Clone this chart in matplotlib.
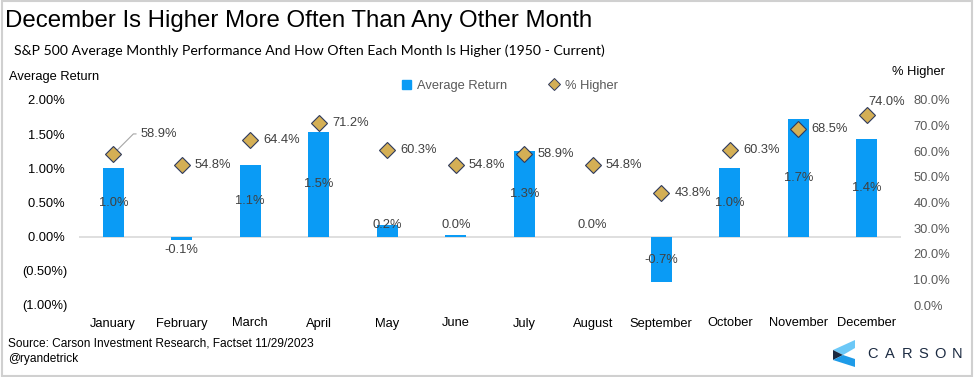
import matplotlib
matplotlib.use("Agg")
import matplotlib.pyplot as plt
from matplotlib.patches import Patch, Polygon, Rectangle
from matplotlib.lines import Line2D
from matplotlib.ticker import FixedLocator

months = ["January", "February", "March", "April", "May", "June", "July",
          "August", "September", "October", "November", "December"]
avg_return = [1.00, -0.05, 1.05, 1.53, 0.17, 0.02, 1.25, 0.00, -0.67, 1.00, 1.72, 1.43]
avg_labels = ["1.0%", "-0.1%", "1.1%", "1.5%", "0.2%", "0.0%", "1.3%", "0.0%",
              "-0.7%", "1.0%", "1.7%", "1.4%"]
pct_higher = [58.9, 54.8, 64.4, 71.2, 60.3, 54.8, 58.9, 54.8, 43.8, 60.3, 68.5, 74.0]
left_ticks = [-1.0, -0.5, 0.0, 0.5, 1.0, 1.5, 2.0]
left_tick_labels = ["(1.00%)", "(0.50%)", "0.00% ", "0.50% ", "1.00% ", "1.50% ", "2.00% "]
right_ticks = [0, 10, 20, 30, 40, 50, 60, 70, 80]

BAR = "#0A9BF5"
DIA = "#D4AF55"
DIA_EDGE = "#2E3A5C"
LBL = "#404040"
FONT = "Liberation Sans"

W, H = 975, 377
fig = plt.figure(figsize=(W / 100, H / 100), dpi=100)
plt.rcParams["font.family"] = [FONT, "DejaVu Sans"]

def fx(px):
    return px / W

def fy(py):
    return 1 - py / H

ax = fig.add_axes([fx(79), fy(305), fx(901) - fx(79), fy(100) - fy(305)])
ax2 = ax.twinx()
ax.set_zorder(1)
ax2.set_zorder(2)
ax.patch.set_visible(False)
ax2.patch.set_visible(False)

x = list(range(len(months)))
ax.bar(x, avg_return, width=0.31, color=BAR, zorder=2)
ax.axhline(0, color="#D9D9D9", lw=1.2, zorder=1)
ax.set_xlim(-0.5, len(months) - 0.5)
ax.set_ylim(-1, 2)
ax2.set_ylim(0, 80)

for a in (ax, ax2):
    for s in a.spines.values():
        s.set_visible(False)

ax.yaxis.set_major_locator(FixedLocator(left_ticks))
ax.set_yticklabels(left_tick_labels, fontsize=9.3, color="#000000")
ax.set_xticks(x)
ax.set_xticklabels(months, fontsize=9.3, color="#000000")
ax.tick_params(axis="both", length=0)
ax.tick_params(axis="y", pad=8)
ax.tick_params(axis="x", pad=9)
ax2.yaxis.set_major_locator(FixedLocator(right_ticks))
ax2.set_yticklabels([f"{t:.1f}%" for t in right_ticks], fontsize=9.3, color="#595959")
ax2.tick_params(axis="y", length=0, pad=9)

# bar labels
for xi, v, lab in zip(x, avg_return, avg_labels):
    if abs(v) < 0.3:
        y = 0.17 if v >= 0 else -0.2
    else:
        y = v / 2
    ax.text(xi, y, lab, ha="center", va="center", fontsize=9.3, color=LBL, zorder=3)

# diamonds
ax2.plot(x, pct_higher, linestyle="none", marker="D", ms=8.5, mfc=DIA,
         mec=DIA_EDGE, mew=0.8, zorder=4)
for xi, p in zip(x, pct_higher):
    lab = f"{p:.1f}%"
    if xi == 0:
        ax2.annotate(lab, xy=(xi, p), xytext=(19.5, 14.5), textcoords="offset points",
                     ha="left", va="center", fontsize=9.3, color=LBL,
                     arrowprops=dict(arrowstyle="-", color="#A6A6A6", lw=0.8,
                                     shrinkA=1, shrinkB=4,
                                     connectionstyle="angle,angleA=0,angleB=45,rad=0"))
    elif xi == len(x) - 1:
        ax2.annotate(lab, xy=(xi, p), xytext=(1.5, 9.5), textcoords="offset points",
                     ha="left", va="center", fontsize=9.3, color=LBL)
    else:
        ax2.annotate(lab, xy=(xi, p), xytext=(9.5, 0), textcoords="offset points",
                     ha="left", va="center", fontsize=9.3, color=LBL)

# titles
fig.text(fx(5), fy(21), "December Is Higher More Often Than Any Other Month",
         fontsize=17.3, color="#000000", ha="left", va="center", family=FONT)
fig.text(fx(14), fy(51),
         "S&P 500 Average Monthly Performance And How Often Each Month Is Higher (1950 - Current)",
         fontsize=10.1, color="#000000", ha="left", va="center", family=["Lato", "DejaVu Sans"])
fig.text(fx(9), fy(77), "Average Return", fontsize=9.3, ha="left", va="center")
fig.text(fx(945), fy(72), "% Higher", fontsize=9.3, ha="right", va="center")

# legend
handles = [Patch(facecolor=BAR, edgecolor=BAR, label="Average Return"),
           Line2D([], [], linestyle="none", marker="D", ms=6.5, mfc=DIA, mec=DIA_EDGE,
                  mew=0.7, label="% Higher")]
leg = fig.legend(handles=handles, loc="center", bbox_to_anchor=(fx(510), fy(86)),
                 ncol=2, frameon=False, fontsize=9.3, handlelength=0.7, handleheight=0.7,
                 handletextpad=0.5, columnspacing=3.3, labelcolor="#595959")

# source
fig.text(fx(8), fy(343), "Source: Carson Investment Research, Factset 11/29/2023",
         fontsize=8.6, ha="left", va="center", color="#000000")
fig.text(fx(8), fy(359), "@ryandetrick", fontsize=8.6, ha="left", va="center", color="#000000")

# logo
def poly(pts, color):
    fig.add_artist(Polygon([(fx(a), fy(b)) for a, b in pts], closed=True,
                           transform=fig.transFigure, facecolor=color, edgecolor="none"))

poly([(833, 350), (855, 340), (855, 348), (843, 355)], "#6CC8F7")
poly([(833, 350), (843, 355), (833, 360)], "#1B2A41")
poly([(833, 360), (843, 355), (855, 359), (855, 367)], "#1E9BE8")
for i, ch in enumerate("CARSON"):
    fig.text(fx(873 + i * 16.8), fy(354), ch, fontsize=10.5, ha="center", va="center",
             color="#1B2A41", family=FONT)

# border
fig.add_artist(Rectangle((0.002, 0.003), 0.995, 0.994, transform=fig.transFigure,
                         fill=False, edgecolor="#D0D0D0", lw=1.5))

fig.savefig("out.png", dpi=100)
